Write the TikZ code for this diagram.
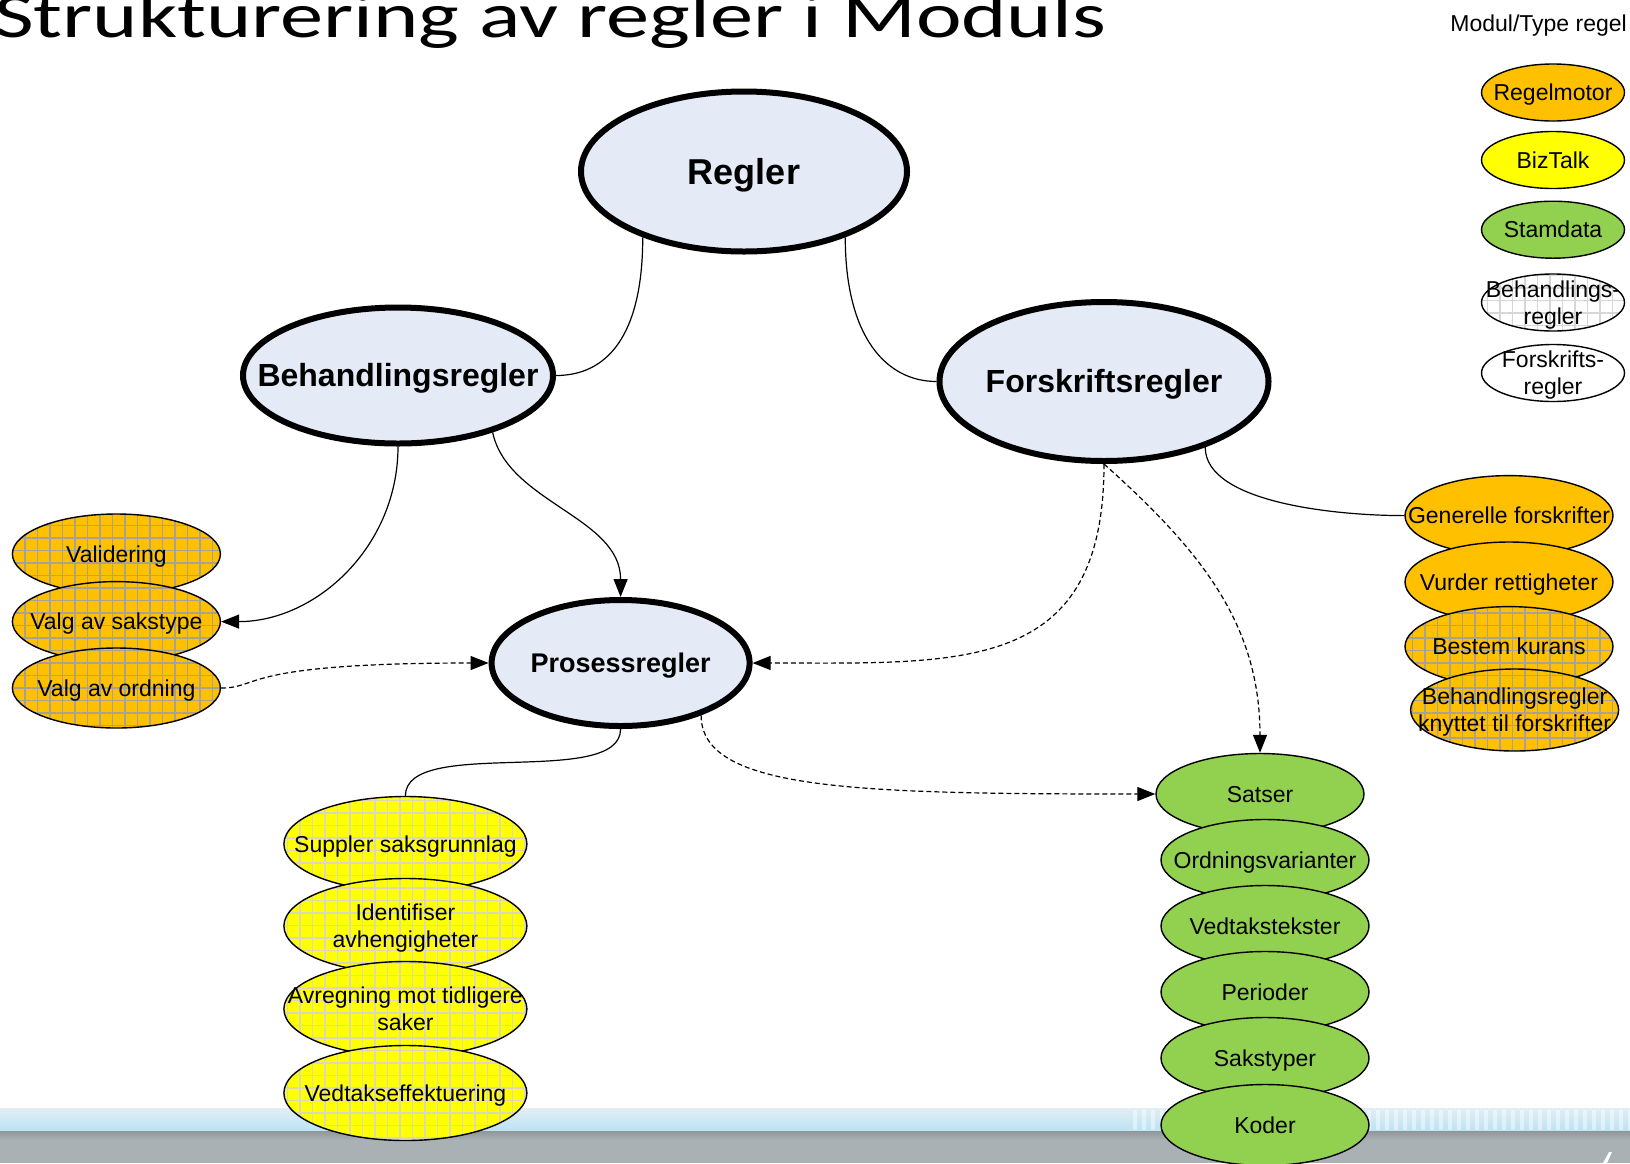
\documentclass[tikz,border=0pt]{standalone}
\usepackage{fontspec}
\setmainfont{Liberation Sans}
\newfontfamily\titlefont{Carlito}
\usetikzlibrary{shapes.geometric,arrows.meta,patterns.meta}

\definecolor{bubblefill}{HTML}{E4EBF6}
\definecolor{motor}{HTML}{FFC000}
\definecolor{biztalk}{HTML}{FFFF00}
\definecolor{stamdata}{HTML}{92D050}
\definecolor{gridorange}{HTML}{A8A294}
\definecolor{gridyellow}{HTML}{DAD7BC}
\definecolor{gridwhite}{HTML}{D6D6D6}
\definecolor{bandtop}{HTML}{E2EEF4}
\definecolor{bandblue}{HTML}{BBE2F4}
\definecolor{bandgray}{HTML}{AAB1B5}

\begin{document}
\begin{tikzpicture}[x=1pt,y=-1pt,
        mainrule/.style={ellipse, draw, line width=6pt, fill=bubblefill, inner sep=0pt},
        subrule/.style={ellipse, draw, line width=1.4pt, inner sep=0pt, minimum width=208pt, minimum height=80pt},
        keyrule/.style={ellipse, draw, line width=1.4pt, inner sep=0pt, minimum width=143pt, minimum height=57pt},
        checked/.style 2 args={preaction={fill=#1}, pattern={Hatch[angle=0,distance=12.5pt,line width=1.8pt]}, pattern color=#2},
        every label/.style={font=\fontsize{23}{27}\selectfont, align=center, text height=21pt, text depth=5pt},
        twolines/.style={text height=48pt, text depth=5pt},
        bigtext/.style n args={3}{font=\bfseries\fontsize{#1}{#1}\selectfont, text height=#2, text depth=#3},
        link/.style={line width=1.2pt},
        dashlink/.style={line width=1.2pt, dash pattern=on 5pt off 3pt},
        toarrow/.style={-{Triangle[length=18pt,width=14pt]}}]
    \useasboundingbox (0,0) rectangle (1630,1163);
    \clip (0,0) rectangle (1630,1163);
    \fill[white] (0,0) rectangle (1630,1163);

    % band at the bottom
    \shade[top color=bandtop, bottom color=bandblue] (0,1108) rectangle (1630,1131);
    \foreach \x in {1133,1142,...,1630}
        \fill[white, opacity=0.45] (\x,1110) rectangle ++(3.5,20);
    \shade[top color=bandgray!85!black, bottom color=bandgray] (0,1131) rectangle (1630,1140);
    \fill[bandgray] (0,1140) rectangle (1630,1163);
    \fill[white] (1603,1163) -- (1609,1152) -- (1612,1152) -- (1607,1163) -- cycle;

    % title
    \node[anchor=base west, inner sep=0pt, font=\titlefont\fontsize{64}{64}\selectfont] (title) at (-6,37)
        {\scalebox{1.35}[1]{Strukturering av regler i Moduls}};

    % legend
    \node[anchor=base east, inner sep=0pt, font=\fontsize{23}{27}\selectfont] (keytitle) at (1627,31) {Modul/Type regel};
    \node[keyrule, fill=motor, label=center:Regelmotor] (kmotor) at (1553,92.5) {};
    \node[keyrule, fill=biztalk, label=center:BizTalk] (kbiztalk) at (1553,160) {};
    \node[keyrule, fill=stamdata, label=center:Stamdata] (kstamdata) at (1553,229.7) {};
    \node[keyrule, checked={white}{gridwhite}, label={[twolines]center:Behandlings-\\regler}] (kbehandling) at (1553,302.5) {};
    \node[keyrule, fill=white, label={[twolines]center:Forskrifts-\\regler}] (kforskrift) at (1553,373) {};

    % main rules
    \node[mainrule, minimum width=326pt, minimum height=160pt, label={[bigtext={36}{32.6pt}{7.6pt}]center:Regler}] (regler) at (744,171.5) {};
    \node[mainrule, minimum width=310pt, minimum height=136pt, label={[bigtext={32}{29pt}{6.8pt}]center:Behandlingsregler}] (behandling) at (398,375.5) {};
    \node[mainrule, minimum width=329pt, minimum height=159pt, label={[bigtext={32}{29pt}{6.8pt}]center:Forskriftsregler}] (forskrift) at (1104,381.5) {};
    \node[mainrule, minimum width=258pt, minimum height=126pt, label={[bigtext={27}{24.4pt}{5.7pt}]center:Prosessregler}] (prosess) at (620.6,663) {};

    % left stack
    \node[subrule, checked={motor}{gridorange}, label=center:Validering] (validering) at (116.4,554) {};
    \node[subrule, checked={motor}{gridorange}, label=center:Valg av sakstype] (sakstype) at (116.4,621.6) {};
    \node[subrule, checked={motor}{gridorange}, label=center:Valg av ordning] (ordning) at (116.4,688) {};

    % process stack
    \node[subrule, minimum width=243pt, minimum height=95pt, checked={biztalk}{gridyellow}, label=center:Suppler saksgrunnlag] (suppler) at (405.4,844) {};
    \node[subrule, minimum width=243pt, minimum height=95pt, checked={biztalk}{gridyellow}, label={[twolines]center:Identifiser\\avhengigheter}] (identifiser) at (405.4,926) {};
    \node[subrule, minimum width=243pt, minimum height=95pt, checked={biztalk}{gridyellow}, label={[twolines]center:Avregning mot tidligere\\saker}] (avregning) at (405.4,1009) {};
    \node[subrule, minimum width=243pt, minimum height=95pt, checked={biztalk}{gridyellow}, label=center:Vedtakseffektuering] (effektuering) at (405.4,1093) {};

    % master data stack
    \node[subrule, minimum height=81pt, fill=stamdata, label=center:Satser] (satser) at (1260,794) {};
    \node[subrule, minimum height=81pt, fill=stamdata, label=center:Ordningsvarianter] (varianter) at (1265,860) {};
    \node[subrule, minimum height=81pt, fill=stamdata, label=center:Vedtakstekster] (vedtakstekster) at (1265,926) {};
    \node[subrule, minimum height=81pt, fill=stamdata, label=center:Perioder] (perioder) at (1265,992) {};
    \node[subrule, minimum height=81pt, fill=stamdata, label=center:Sakstyper] (sakstyper) at (1265,1058) {};
    \node[subrule, minimum height=81pt, fill=stamdata, label=center:Koder] (koder) at (1265,1125) {};

    % regulation stack
    \node[subrule, fill=motor, label=center:Generelle forskrifter] (generelle) at (1509,515.6) {};
    \node[subrule, fill=motor, label=center:Vurder rettigheter] (rettigheter) at (1509,582) {};
    \node[subrule, checked={motor}{gridorange}, label=center:Bestem kurans] (kurans) at (1509,646.6) {};
    \node[subrule, minimum height=82pt, checked={motor}{gridorange}, label={[twolines]center:Behandlingsregler\\knyttet til forskrifter}] (knyttet) at (1514.6,710) {};

    % connectors
    \draw[link] (regler.-147) .. controls +(0,100) and +(50,0) .. (behandling.east);
    \draw[link] (regler.-33) .. controls +(0,100) and +(-50,0) .. (forskrift.west);
    \draw[link, toarrow] (behandling.-31) .. controls +(15,70) and +(0,-80) .. (prosess.north);
    \draw[link, toarrow] (behandling.south) .. controls +(0,100) and +(95,0) .. (sakstype.east);
    \draw[dashlink, toarrow] (ordning.east) .. controls +(40,0) and +(-250,0) .. (prosess.west);
    \draw[dashlink, toarrow] (forskrift.south) .. controls +(0,210) and +(210,0) .. (prosess.east);
    \draw[dashlink, toarrow] (forskrift.south) .. controls +(95,85) and +(0,-130) .. (satser.north);
    \draw[link] (forskrift.-33) .. controls +(0,55) and +(-70,0) .. (generelle.west);
    \draw[link] (prosess.south) .. controls +(0,60) and +(0,-60) .. (suppler.north);
    \draw[dashlink, toarrow] (prosess.-33) .. controls +(0,75) and +(-300,0) .. (satser.west);
\end{tikzpicture}
\end{document}
